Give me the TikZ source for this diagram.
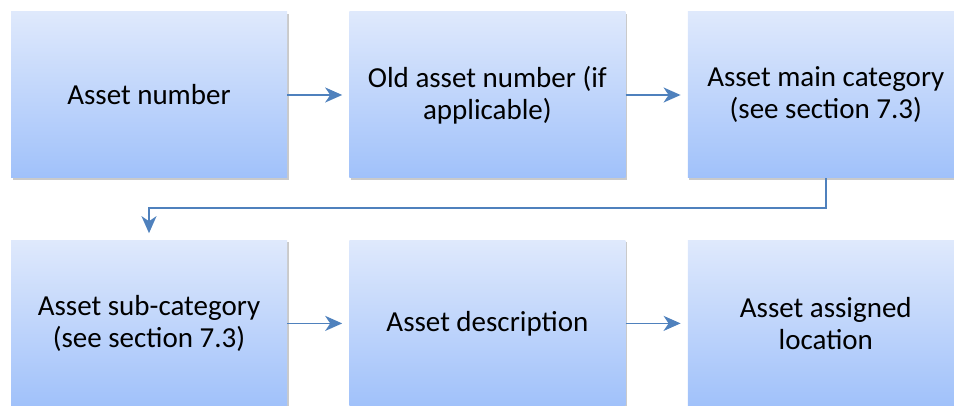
\documentclass[tikz,border=0pt]{standalone}
\usepackage{fontspec}
\setmainfont{Carlito}
\usetikzlibrary{arrows.meta,positioning,shadows}
\definecolor{boxtop}{RGB}{223,233,252}
\definecolor{boxbot}{RGB}{160,193,250}
\definecolor{flow}{RGB}{79,129,189}
\tikzset{
  field/.style={minimum width=276pt,minimum height=166pt,inner sep=0pt,align=center,
    top color=boxtop,bottom color=boxbot,
    drop shadow={shadow xshift=1.5pt,shadow yshift=-2pt,opacity=0.35,fill=black!60},
    font=\fontsize{29}{32}\selectfont},
  link/.style={draw=flow,line width=1.8pt,-{Stealth[length=17pt,width=15pt,inset=5pt]},shorten >=7pt}
}

\begin{document}
\begin{tikzpicture}[x=1pt,y=1pt,node distance=62pt]
\useasboundingbox (0,0) rectangle (954,405);
\node[field] (num) at (149,310) {Asset number};
\node[field,right=of num] (old) {Old asset number (if\\applicable)};
\node[field,right=of old] (main) {Asset main category\\(see section 7.3)};
\node[field,below=of num] (sub) {Asset sub-category\\(see section 7.3)};
\node[field,right=of sub] (desc) {Asset description};
\node[field,right=of desc] (loc) {Asset assigned\\location};
\coordinate[below=30pt of main.south] (turn);
\draw[link] (num) -- (old);
\draw[link] (old) -- (main);
\draw[link] (main.south) -- (turn) -| (sub.north);
\draw[link] (sub) -- (desc);
\draw[link] (desc) -- (loc);
\end{tikzpicture}
\end{document}
